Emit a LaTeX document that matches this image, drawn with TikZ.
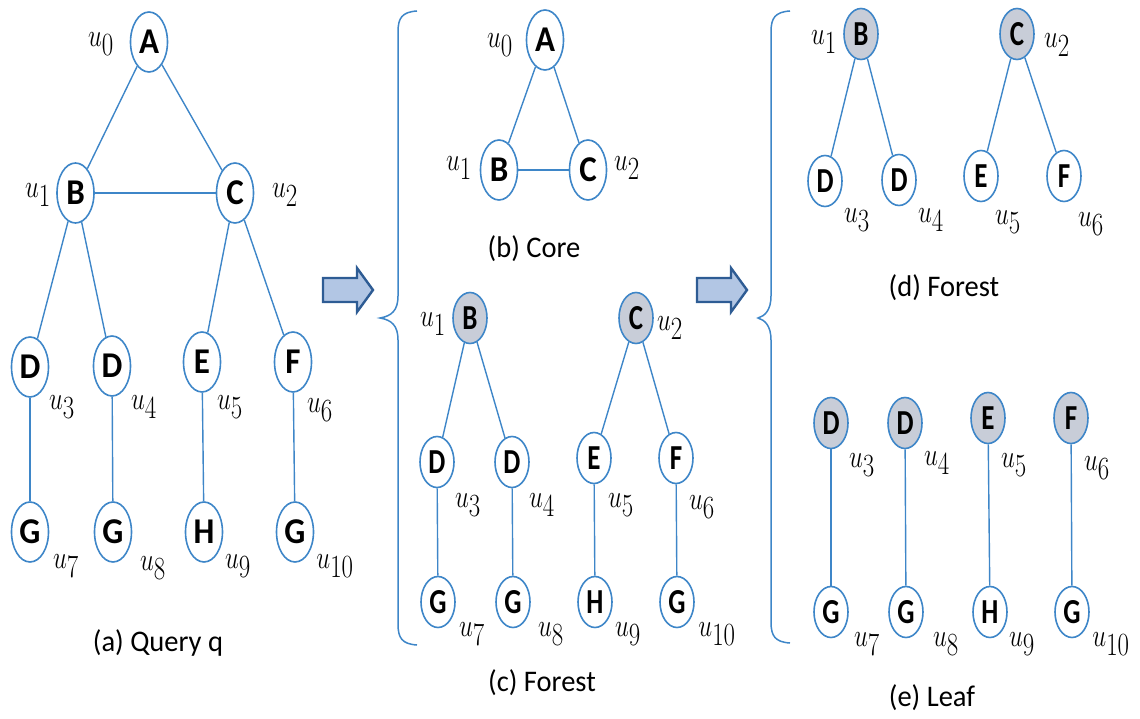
\documentclass[tikz,border=0pt]{standalone}
\usepackage{graphicx}
\usepackage{fontspec}
\setmainfont{Carlito}
\usetikzlibrary{shapes.geometric}
\definecolor{nblue}{RGB}{62,134,200}
\definecolor{ngray}{RGB}{200,205,216}
\definecolor{afill}{RGB}{178,198,228}
\definecolor{aedge}{RGB}{46,92,148}
\newcommand{\nl}[1]{\scalebox{1}[1.1]{\fontsize{33}{33}\selectfont\bfseries #1}}
\newcommand{\ns}[1]{\scalebox{1}[1.3]{\fontsize{27}{27}\selectfont\bfseries #1}}
\newcommand{\ul}[1]{\scalebox{1}[1.3]{\fontsize{33}{33}\selectfont $u_{#1}$}}
\newcommand{\capt}[1]{\scalebox{1}[1.05]{\fontsize{28.5}{28.5}\selectfont #1}}
\tikzset{
  big/.style={ellipse, draw=nblue, line width=1.6pt, fill=white, minimum width=37, minimum height=60, inner sep=0pt},
  sml/.style={ellipse, draw=nblue, line width=1.6pt, fill=white, minimum width=34, minimum height=51, inner sep=0pt},
  shd/.style={fill=ngray},
  lab/.style={inner sep=0pt},
  edge/.style={draw=nblue, line width=1.4pt},
  brace/.style={draw=nblue, line width=1.5pt},
  barrow/.style={draw=aedge, fill=afill, line width=2.4pt, line join=miter},
}
\begin{document}
\begin{tikzpicture}[x=1pt,y=-1pt]
\useasboundingbox (0,0) rectangle (1140,719);
% ---------- (a) ----------
\node[big] (aA) at (149,42) {\nl{A}};
\node[big] (aB) at (75.5,193) {\nl{B}};
\node[big] (aC) at (235,193) {\nl{C}};
\node[big] (aD1) at (30,367) {\nl{D}};
\node[big] (aD2) at (112,366) {\nl{D}};
\node[big] (aE) at (202,362) {\nl{E}};
\node[big] (aF) at (293,362) {\nl{F}};
\node[big] (aG1) at (30,532) {\nl{G}};
\node[big] (aG2) at (113,532) {\nl{G}};
\node[big] (aH) at (204,532) {\nl{H}};
\node[big] (aG4) at (295,532) {\nl{G}};
\draw[edge] (aA) -- (aB); \draw[edge] (aA) -- (aC); \draw[edge] (aB) -- (aC);
\draw[edge] (aB) -- (aD1); \draw[edge] (aB) -- (aD2);
\draw[edge] (aC) -- (aE); \draw[edge] (aC) -- (aF);
\draw[edge] (aD1) -- (aG1); \draw[edge] (aD2) -- (aG2);
\draw[edge] (aE) -- (aH); \draw[edge] (aF) -- (aG4);
\node[lab] (au0) at (101,44) {\ul{0}};
\node[lab] (au1) at (38,195) {\ul{1}};
\node[lab] (au2) at (285,195) {\ul{2}};
\node[lab] (au3) at (62,407) {\ul{3}};
\node[lab] (au4) at (144,407) {\ul{4}};
\node[lab] (au5) at (230,407) {\ul{5}};
\node[lab] (au6) at (320,410) {\ul{6}};
\node[lab] (au7) at (66,566) {\ul{7}};
\node[lab] (au8) at (153,568) {\ul{8}};
\node[lab] (au9) at (238,566) {\ul{9}};
\node[lab] (au10) at (335,566) {\ul{10}};
\node[lab] (capa) at (158,643) {\capt{(a) Query q}};
% ---------- arrows ----------
\draw[barrow] (323,278) -- (357,278) -- (357,268) -- (373,290) -- (357,312) -- (357,302) -- (323,302) -- cycle;
\draw[barrow] (697,278) -- (731,278) -- (731,268) -- (747,290) -- (731,312) -- (731,302) -- (697,302) -- cycle;
% ---------- braces ----------
\draw[brace] (417,11) .. controls (402,12) and (398,18) .. (398,32) -- (398,296) .. controls (398,310) and (392,316) .. (380,318) .. controls (392,320) and (398,326) .. (398,340) -- (398,624) .. controls (398,638) and (402,644) .. (417,645);
\draw[brace] (790,11) .. controls (775,12) and (771,18) .. (771,32) -- (771,296) .. controls (771,310) and (765,316) .. (758,318) .. controls (765,320) and (771,326) .. (771,340) -- (771,622) .. controls (771,636) and (775,642) .. (790,643);
% ---------- (b) ----------
\node[big] (bA) at (545,40) {\nl{A}};
\node[big] (bB) at (499,170) {\nl{B}};
\node[big] (bC) at (588,170) {\nl{C}};
\draw[edge] (bA) -- (bB); \draw[edge] (bA) -- (bC); \draw[edge] (bB) -- (bC);
\node[lab] (bu0) at (500,45) {\ul{0}};
\node[lab] (bu1) at (459,168) {\ul{1}};
\node[lab] (bu2) at (627,168) {\ul{2}};
\node[lab] (capb) at (534,249) {\capt{(b) Core}};
% ---------- (c) ----------
\node[sml,shd] (cB) at (470,318) {\ns{B}};
\node[sml,shd] (cC) at (636,318) {\ns{C}};
\node[sml] (cD1) at (437,462) {\ns{D}};
\node[sml] (cD2) at (512,462) {\ns{D}};
\node[sml] (cE) at (594,458) {\ns{E}};
\node[sml] (cF) at (676,458) {\ns{F}};
\node[sml] (cG1) at (438,602) {\ns{G}};
\node[sml] (cG2) at (513,602) {\ns{G}};
\node[sml] (cH) at (595,602) {\ns{H}};
\node[sml] (cG4) at (677,602) {\ns{G}};
\draw[edge] (cB) -- (cD1); \draw[edge] (cB) -- (cD2);
\draw[edge] (cC) -- (cE); \draw[edge] (cC) -- (cF);
\draw[edge] (cD1) -- (cG1); \draw[edge] (cD2) -- (cG2);
\draw[edge] (cE) -- (cH); \draw[edge] (cF) -- (cG4);
\node[lab] (cu1) at (433,324) {\ul{1}};
\node[lab] (cu2) at (670,328) {\ul{2}};
\node[lab] (cu3) at (468,505) {\ul{3}};
\node[lab] (cu4) at (542,505) {\ul{4}};
\node[lab] (cu5) at (621,505) {\ul{5}};
\node[lab] (cu6) at (702,507) {\ul{6}};
\node[lab] (cu7) at (472,634) {\ul{7}};
\node[lab] (cu8) at (551,634) {\ul{8}};
\node[lab] (cu9) at (628,634) {\ul{9}};
\node[lab] (cu10) at (717,634) {\ul{10}};
\node[lab] (capc) at (542,683) {\capt{(c) Forest}};
% ---------- (d) ----------
\node[sml,shd] (dB) at (861,34) {\ns{B}};
\node[sml,shd] (dC) at (1017,34) {\ns{C}};
\node[sml] (dD1) at (825,181) {\ns{D}};
\node[sml] (dD2) at (899,180) {\ns{D}};
\node[sml] (dE) at (981,176) {\ns{E}};
\node[sml] (dF) at (1064,176) {\ns{F}};
\draw[edge] (dB) -- (dD1); \draw[edge] (dB) -- (dD2);
\draw[edge] (dC) -- (dE); \draw[edge] (dC) -- (dF);
\node[lab] (du1) at (824,42) {\ul{1}};
\node[lab] (du2) at (1057,45) {\ul{2}};
\node[lab] (du3) at (857,220) {\ul{3}};
\node[lab] (du4) at (931,220) {\ul{4}};
\node[lab] (du5) at (1008,222) {\ul{5}};
\node[lab] (du6) at (1091,224) {\ul{6}};
\node[lab] (capd) at (944,288) {\capt{(d) Forest}};
% ---------- (e) ----------
\node[sml,shd] (eD1) at (831,423) {\ns{D}};
\node[sml,shd] (eD2) at (905,423) {\ns{D}};
\node[sml,shd] (eE) at (988,418) {\ns{E}};
\node[sml,shd] (eF) at (1071,418) {\ns{F}};
\node[sml] (eG1) at (831,612) {\ns{G}};
\node[sml] (eG2) at (906,612) {\ns{G}};
\node[sml] (eH) at (990,612) {\ns{H}};
\node[sml] (eG4) at (1072,612) {\ns{G}};
\draw[edge] (eD1) -- (eG1); \draw[edge] (eD2) -- (eG2);
\draw[edge] (eE) -- (eH); \draw[edge] (eF) -- (eG4);
\node[lab] (eu3) at (862,465) {\ul{3}};
\node[lab] (eu4) at (937,463) {\ul{4}};
\node[lab] (eu5) at (1014,465) {\ul{5}};
\node[lab] (eu6) at (1097,468) {\ul{6}};
\node[lab] (eu7) at (867,644) {\ul{7}};
\node[lab] (eu8) at (946,644) {\ul{8}};
\node[lab] (eu9) at (1022,644) {\ul{9}};
\node[lab] (eu10) at (1111,644) {\ul{10}};
\node[lab] (cape) at (932,698) {\capt{(e) Leaf}};
\end{tikzpicture}
\end{document}
